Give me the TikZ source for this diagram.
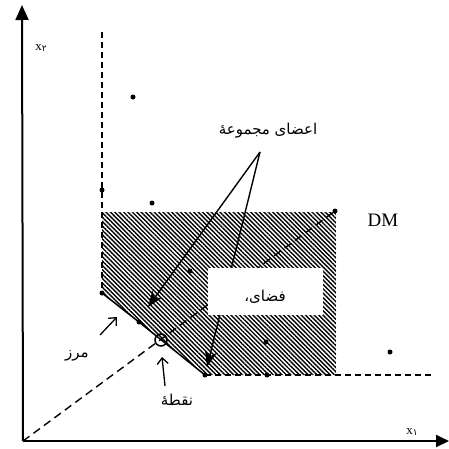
\documentclass[tikz,border=0pt]{standalone}
\usepackage{fontspec}
\setmainfont{Liberation Serif}
\newfontfamily\arabicfont[Script=Arabic]{DejaVu Sans}
\TeXXeTstate=1
\usepackage{tikz}
\usetikzlibrary{calc, positioning, patterns.meta, arrows.meta}

\tikzset{
  dot/.style={circle, fill=black, inner sep=0pt, minimum size=5pt},
  lbl/.style={font=\arabicfont\fontsize{15}{17}\selectfont, inner sep=1pt},
  bigarrow/.style={-{Stealth[length=16pt, width=12pt]}, line width=1.4pt},
  openarrow/.style={-{Straight Barb[length=6pt, width=11pt]}, line width=1.3pt},
  dashline/.style={line width=1.8pt, dash pattern=on 6pt off 4pt}
}

\begin{document}
\begin{tikzpicture}[x=1pt, y=-1pt]
    \useasboundingbox (0,0) rectangle (449,448);

    % Nokta
    \coordinate (O) at (23,441);
    \coordinate (A) at (102,293);
    \coordinate (B) at (139,322);
    \coordinate (C) at (161,340);
    \coordinate (D) at (205,375);
    \coordinate (DM) at (335,211);

    % Vùng gạch chéo
    \fill[pattern={Lines[angle=-45, distance=3.1pt, line width=1.4pt]}]
        (A) -- (102,212) -- (336,212) -- (336,375) -- (D) -- cycle;

    % Hệ trục tọa độ
    \draw[line width=2pt, -{Triangle[length=15pt, width=13pt]}] (O) -- (22,5);
    \draw[line width=2pt, -{Triangle[length=13pt, width=12pt]}] (O) -- (449,441);
    \node (xtwo) at (41,48) {\fontsize{13}{13}\selectfont x\raisebox{-1pt}{\arabicfont\fontsize{9}{9}\selectfont ۲}};
    \node (xone) at (412,432) {\fontsize{13}{13}\selectfont x\raisebox{-1pt}{\arabicfont\fontsize{9}{9}\selectfont ۱}};

    % Biên
    \draw[dashline] (102,32) -- (A);
    \draw[line width=1.5pt] (A) -- (B) -- (D);
    \draw[dashline] (D) -- (432,375);
    \draw[line width=1.4pt, dash pattern=on 8pt off 5pt] (O) -- (DM);

    % Các điểm
    \foreach \p in {(133,97), (102,190), (152,203), (190,271), (266,342), (267,375), (390,352)}
        \node[dot] at \p {};
    \node[dot] (pA) at (A) {};
    \node[dot] (pB) at (B) {};
    \node[dot] (pD) at (D) {};
    \node[dot] (pDM) at (DM) {};
    \node[circle, draw, line width=1.5pt, minimum size=12pt, inner sep=0pt] (pC) at (C) {};

    % Nhãn
    \node[lbl] (members) at (268,131) {\beginR اعضای مجموعهٔ\endR};
    \coordinate (m) at (260,152);
    \draw[bigarrow] (m) -- (148,307);
    \draw[bigarrow] (m) -- (207,367);

    \node[fill=white, minimum width=115pt, minimum height=47pt, inner sep=0pt] (space) at (265.5,291.5) {};
    \node[lbl] (spacetxt) at (265,297) {\beginR فضای،\endR};

    \node[font=\fontsize{19}{19}\selectfont, inner sep=0pt] (dmlbl) at (383,220) {DM};

    \node[lbl] (border) at (77,356) {\beginR مرز\endR};
    \draw[openarrow] (100,335) -- (117,317);

    \node[lbl] (point) at (177,400) {\beginR نقطهٔ\endR};
    \draw[openarrow] (165,386) -- (162,357);
\end{tikzpicture}
\end{document}
